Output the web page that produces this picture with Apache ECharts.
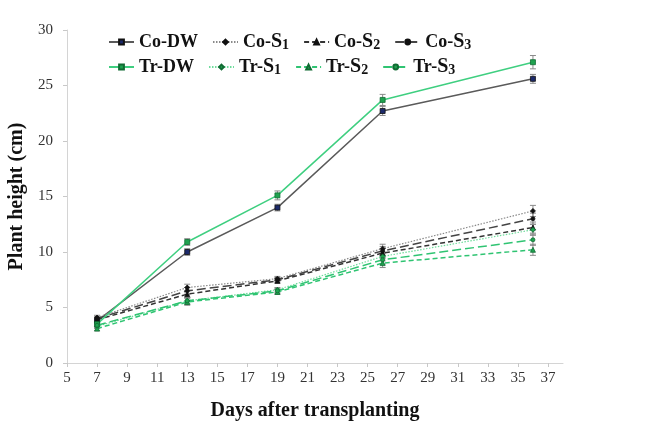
<!DOCTYPE html>
<html><head><meta charset="utf-8">
<script src="https://cdn.jsdelivr.net/npm/echarts@6/dist/echarts.min.js"></script>
<style>html,body{margin:0;padding:0;background:#fff}#c{width:649px;height:425px}</style>
</head><body><div id="c"></div>
<script>
var days = [7, 13, 19, 26, 36];
var xTicks = [5,7,9,11,13,15,17,19,21,23,25,27,29,31,33,35,37];
var coDW = [3.8, 10.0, 14.0, 22.7, 25.6];
var coS1 = [4.1, 6.8, 7.6, 10.3, 13.7];
var coS2 = [3.9, 6.2, 7.4, 9.9, 12.2];
var coS3 = [4.0, 6.5, 7.5, 10.1, 13.0];
var trDW = [3.5, 10.9, 15.1, 23.7, 27.1];
var trS1 = [3.3, 5.6, 6.6, 9.6, 12.0];
var trS2 = [3.1, 5.5, 6.4, 9.0, 10.2];
var trS3 = [3.4, 5.6, 6.5, 9.3, 11.1];
var errDW = [0.2, 0.3, 0.3, 0.4, 0.4];
var errTrDW = [0.2, 0.3, 0.4, 0.5, 0.6];
var errS = [0.2, 0.3, 0.2, 0.4, 0.5];

var chart = echarts.init(document.getElementById('c'), null, {renderer:'canvas'});
var serif = '"Liberation Serif","Times New Roman",serif';
function pts(v){ return days.map(function(d,i){ return [d, v[i]]; }); }
function mk(name, vals, lineType, lineColor, symbol, size, symColor, width){
  return {
    name: name, type: 'line', data: pts(vals), symbol: symbol, symbolSize: size,
    lineStyle: {color: lineColor, type: lineType, width: width},
    itemStyle: {color: symColor, borderColor: symColor === '#1fa24f' ? '#116b33' : '#111', borderWidth: 0.8},
    z: 3, animation: false
  };
}
function errSeries(vals, errs){
  return {
    type: 'custom', silent: true, z: 2, animation: false,
    data: days.map(function(d,i){ return [d, vals[i], errs[i]]; }),
    renderItem: function(params, api){
      var x = api.value(0), y = api.value(1), e = api.value(2);
      var hi = api.coord([x, y + e]), lo = api.coord([x, y - e]);
      var c = 3;
      var st = {stroke:'#8a8a8a', lineWidth:1};
      return {type:'group', children:[
        {type:'line', shape:{x1:hi[0],y1:hi[1],x2:lo[0],y2:lo[1]}, style:st},
        {type:'line', shape:{x1:hi[0]-c,y1:hi[1],x2:hi[0]+c,y2:hi[1]}, style:st},
        {type:'line', shape:{x1:lo[0]-c,y1:lo[1],x2:lo[0]+c,y2:lo[1]}, style:st}
      ]};
    }
  };
}
var green = '#3fcf80';
var legendText = {
  fontFamily: serif, fontWeight: 'bold', fontSize: 18, color: '#111', width: 57,
  rich: {
    s: {fontFamily: serif, fontWeight: 'bold', fontSize: 20, color:'#111'},
    sub: {fontFamily: serif, fontWeight: 'bold', fontSize: 14, color:'#111', verticalAlign:'bottom', padding:[6,0,0,0]},
    n: {fontFamily: serif, fontWeight: 'bold', fontSize: 18, color:'#111'}
  }
};
function fmt(name){
  var m = name.match(/^(.*)-S(\d)$/);
  if (m) return '{n|' + m[1] + '-}{s|S}{sub|' + m[2] + '}';
  return '{n|' + name + '}';
}
var option = {
  backgroundColor: '#fff',
  animation: false,
  grid: {left: 67, right: 86, top: 30, bottom: 62, outerBoundsMode: 'none', containLabel: false},
  legend: [
    {data: ['Co-DW','Co-S1','Co-S2','Co-S3'], left: 103, top: 27, itemWidth: 25, itemHeight: 6, itemGap: 14, textStyle: legendText, formatter: fmt},
    {data: ['Tr-DW','Tr-S1','Tr-S2','Tr-S3'], left: 103, top: 52, itemWidth: 25, itemHeight: 6, itemGap: 14, textStyle: legendText, formatter: fmt}
  ],
  xAxis: {
    type: 'value', min: 5, max: 38,
    name: 'Days after transplanting', nameLocation: 'middle', nameGap: 38,
    nameTextStyle: {fontFamily: serif, fontWeight: 'bold', fontSize: 20, color: '#111'},
    axisLine: {show: true, lineStyle: {color: '#d4d4d4', width: 1}},
    axisTick: {show: true, inside: false, length: 4, customValues: xTicks, lineStyle: {color: '#c8c8c8'}},
    axisLabel: {customValues: xTicks, fontFamily: serif, fontSize: 15, color: '#333', margin: 8},
    splitLine: {show: false}
  },
  yAxis: {
    type: 'value', min: 0, max: 30, interval: 5,
    name: 'Plant height (cm)', nameLocation: 'middle', nameGap: 40,
    nameTextStyle: {fontFamily: serif, fontWeight: 'bold', fontSize: 20, color: '#111'},
    axisLine: {show: true, lineStyle: {color: '#d4d4d4', width: 1}},
    axisTick: {show: true, length: 4, lineStyle: {color: '#c8c8c8'}},
    axisLabel: {fontFamily: serif, fontSize: 15, color: '#333', margin: 14},
    splitLine: {show: false}
  },
  series: [
    errSeries(coDW, errDW), errSeries(trDW, errTrDW),
    errSeries(coS1, errS), errSeries(coS2, errS), errSeries(coS3, errS),
    errSeries(trS1, errS), errSeries(trS2, errS), errSeries(trS3, errS),
    mk('Co-DW', coDW, 'solid', '#5a5a5a', 'rect', 5, '#1c2a6b', 1.5),
    mk('Co-S1', coS1, [1.5,1.5], '#8a8a8a', 'diamond', 5, '#111', 1.2),
    mk('Co-S2', coS2, [5,3], '#333', 'triangle', 5, '#111', 1.5),
    mk('Co-S3', coS3, [9,4], '#444', 'circle', 4, '#111', 1.5),
    mk('Tr-DW', trDW, 'solid', green, 'rect', 5, '#1fa24f', 1.5),
    mk('Tr-S1', trS1, [1.5,1.5], '#6fdc9c', 'diamond', 5, '#1fa24f', 1.2),
    mk('Tr-S2', trS2, [5,3], '#2fc472', 'triangle', 5, '#1fa24f', 1.5),
    mk('Tr-S3', trS3, [9,4], '#2fc472', 'circle', 4, '#1fa24f', 1.5)
  ]
};
chart.setOption(option);
</script>
</body></html>
